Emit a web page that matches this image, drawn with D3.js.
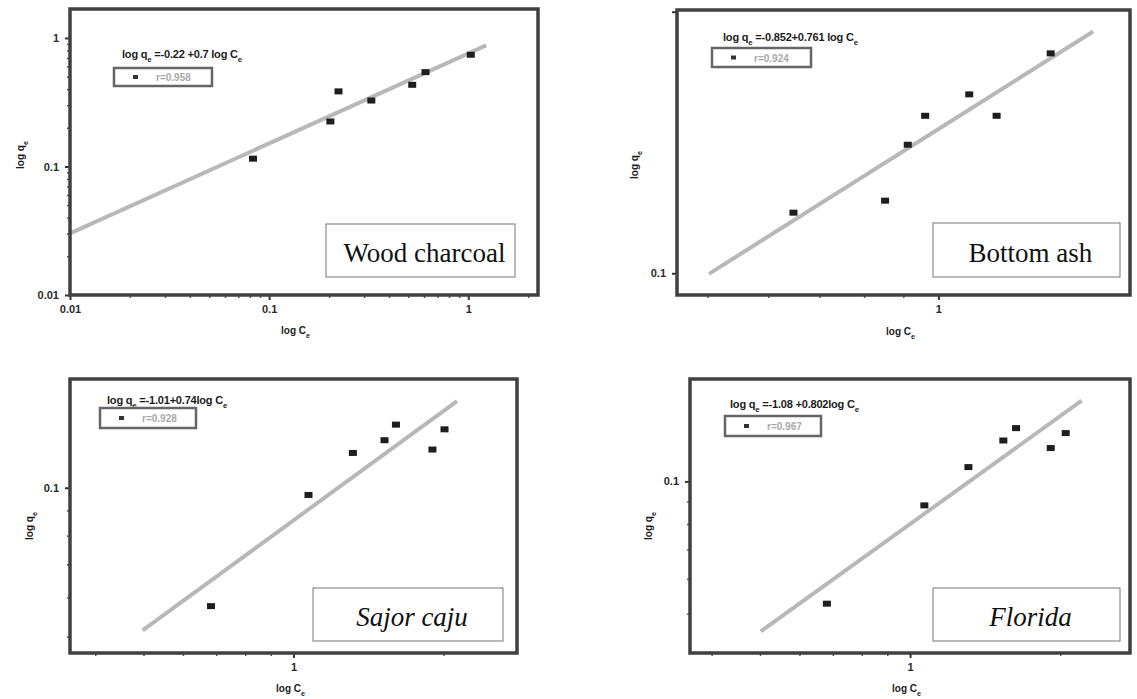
<!DOCTYPE html>
<html>
<head>
<meta charset="utf-8">
<script src="https://cdn.jsdelivr.net/npm/d3@7"></script>
<style>
  body { margin: 0; background: #fff; }
  svg { display: block; }
  .tick text { font-family: "Liberation Sans", Arial, sans-serif; font-weight: bold; font-size: 11px; fill: #2a2a2a; }
</style>
</head>
<body>
<div id="chart"></div>
<script>
// Ce / qe values
const woodCe = [0.083, 0.203, 0.223, 0.326, 0.523, 0.61, 1.03];
const woodQe = [0.115, 0.224, 0.384, 0.326, 0.432, 0.542, 0.74];
const ashCe = [0.647, 0.852, 0.912, 0.961, 1.097, 1.191, 1.401];
const ashQe = [0.1705, 0.1895, 0.31, 0.40, 0.483, 0.40, 0.693];
const sajorCe = [0.683, 1.072, 1.316, 1.523, 1.606, 1.901, 2.01];
const sajorQe = [0.0576, 0.0967, 0.1176, 0.1248, 0.1342, 0.1195, 0.1313];
const floridaCe = [0.681, 1.068, 1.309, 1.538, 1.631, 1.914, 2.051];
const floridaQe = [0.0527, 0.0882, 0.1078, 0.1239, 0.1322, 0.1191, 0.1288];

const panelNames = ['Wood charcoal', 'Bottom ash', 'Sajor caju', 'Florida'];
const italicNames = [false, false, true, true];

// fitted line: log qe = a + b log Ce, drawn from fitFrom to fitTo
const fitIntercept = [-0.121, -0.449, -1.066, -1.097];
const fitSlope = [0.70, 1.848, 0.7355, 0.816];
const fitFrom = [0.01, 0.502, 0.498, 0.502];
const fitTo = [1.23, 1.592, 2.13, 2.208];

const eqConst = [' =-0.22 +0.7 log C', ' =-0.852+0.761 log C', ' =-1.01+0.74log C', ' =-1.08 +0.802log C'];
const rLabels = ['r=0.958', 'r=0.924', 'r=0.928', 'r=0.967'];

// axes
const xDomains = [[0.01, 2.24], [0.456, 1.778], [0.356, 2.81], [0.362, 2.76]];
const yDomains = [[0.01, 1.68], [0.0826, 1.015], [0.0463, 0.166], [0.0407, 0.171]];
const xMajor = [[0.01, 0.1, 1], [1], [1], [1]];
const xMajorLabels = [['0.01', '0.1', '1'], ['1'], ['1'], ['1']];
const xMinor = [
  [0.02, 0.03, 0.04, 0.05, 0.06, 0.07, 0.08, 0.09, 0.2, 0.3, 0.4, 0.5, 0.6, 0.7, 0.8, 0.9, 2],
  [0.5, 0.6, 0.7, 0.8, 0.9],
  [0.4, 0.5, 0.6, 0.7, 0.8, 0.9, 2],
  [0.4, 0.5, 0.6, 0.7, 0.8, 0.9, 2]
];
const yMajor = [[0.01, 0.1, 1], [0.1, 1], [0.1], [0.1]];
const yMajorLabels = [['0.01', '0.1', '1'], ['0.1', ''], ['0.1'], ['0.1']];
const yMinor = [
  [0.02, 0.03, 0.04, 0.05, 0.06, 0.07, 0.08, 0.09, 0.2, 0.3, 0.4, 0.5, 0.6, 0.7, 0.8, 0.9],
  [],
  [0.05, 0.06, 0.07, 0.08, 0.09],
  [0.05, 0.06, 0.07, 0.08, 0.09]
];

const seriesCe = [woodCe, ashCe, sajorCe, floridaCe];
const seriesQe = [woodQe, ashQe, sajorQe, floridaQe];

// layout of each panel in page pixels
const layouts = [
  { x0: 70, x1: 538, y0: 9, y1: 295, eq: [122, 58], legend: [114, 68, 98, 18], nameBox: [326, 224, 189, 53], yLab: [20, 152], xLab: [300, 334] },
  { x0: 677, x1: 1130, y0: 10, y1: 295, eq: [723, 41], legend: [712, 48, 99, 19], nameBox: [933, 223, 187, 54], yLab: [634, 162], xLab: [905, 335] },
  { x0: 70, x1: 517, y0: 379, y1: 653, eq: [107, 404], legend: [100, 408, 96, 20], nameBox: [313, 588, 190, 53], yLab: [29, 523], xLab: [295, 692] },
  { x0: 690, x1: 1130, y0: 379, y1: 653, eq: [730, 408], legend: [725, 416, 96, 20], nameBox: [933, 588, 187, 53], yLab: [648, 523], xLab: [911, 692] }
];

const svg = d3.select('#chart').append('svg')
  .attr('width', 1137)
  .attr('height', 699);

function subLabel(g, x, y, parts, size) {
  // parts: array of [text, isSub]; subscripts shift down, next run shifts back
  const t = g.append('text')
    .attr('x', x).attr('y', y)
    .attr('font-family', '"Liberation Sans", Arial, sans-serif')
    .attr('font-weight', 'bold')
    .attr('font-size', size)
    .attr('fill', '#1c1c1c');
  let shifted = false;
  parts.forEach(([s, sub]) => {
    const dy = sub ? 4 : (shifted ? -4 : 0);
    t.append('tspan')
      .attr('font-size', sub ? size * 0.72 : size)
      .attr('dy', dy)
      .text(s);
    shifted = sub;
  });
  return t;
}

function drawPanel(i) {
  const L = layouts[i];
  const g = svg.append('g');

  const x = d3.scaleLog().domain(xDomains[i]).range([L.x0, L.x1]);
  const y = d3.scaleLog().domain(yDomains[i]).range([L.y1, L.y0]);

  // minor ticks
  g.append('g')
    .attr('transform', `translate(0,${L.y1})`)
    .call(d3.axisBottom(x).tickValues(xMinor[i]).tickSize(3).tickFormat(''))
    .call(a => a.select('.domain').remove())
    .call(a => a.selectAll('line').attr('stroke', '#555').attr('stroke-width', 1.5));
  g.append('g')
    .attr('transform', `translate(${L.x0},0)`)
    .call(d3.axisLeft(y).tickValues(yMinor[i]).tickSize(3).tickFormat(''))
    .call(a => a.select('.domain').remove())
    .call(a => a.selectAll('line').attr('stroke', '#555').attr('stroke-width', 1.5));

  // major ticks with labels
  g.append('g')
    .attr('transform', `translate(0,${L.y1})`)
    .call(d3.axisBottom(x).tickValues(xMajor[i]).tickSize(5).tickPadding(5)
      .tickFormat((d, k) => xMajorLabels[i][k]))
    .call(a => a.select('.domain').remove())
    .call(a => a.selectAll('line').attr('stroke', '#333').attr('stroke-width', 2));
  g.append('g')
    .attr('transform', `translate(${L.x0},0)`)
    .call(d3.axisLeft(y).tickValues(yMajor[i]).tickSize(5).tickPadding(6)
      .tickFormat((d, k) => yMajorLabels[i][k]))
    .call(a => a.select('.domain').remove())
    .call(a => a.selectAll('line').attr('stroke', '#333').attr('stroke-width', 2));

  // fitted line
  const fit = [fitFrom[i], fitTo[i]].map(c => [c, Math.pow(10, fitIntercept[i] + fitSlope[i] * Math.log10(c))]);
  g.append('path')
    .datum(fit)
    .attr('d', d3.line().x(d => x(d[0])).y(d => y(d[1])))
    .attr('stroke', '#b8b8b8')
    .attr('stroke-width', 4)
    .attr('fill', 'none');

  // data points
  g.selectAll('rect.pt')
    .data(seriesCe[i].map((c, k) => [c, seriesQe[i][k]]))
    .join('rect')
    .attr('class', 'pt')
    .attr('x', d => x(d[0]) - 4)
    .attr('y', d => y(d[1]) - 3)
    .attr('width', 8)
    .attr('height', 6)
    .attr('fill', '#1e1e1e');

  // frame
  g.append('rect')
    .attr('x', L.x0).attr('y', L.y0)
    .attr('width', L.x1 - L.x0).attr('height', L.y1 - L.y0)
    .attr('fill', 'none')
    .attr('stroke', '#404040')
    .attr('stroke-width', 3.5);

  // equation
  subLabel(g, L.eq[0], L.eq[1], [['log q', false], ['e', true], [eqConst[i], false], ['e', true]], 11)
    .attr('letter-spacing', -0.2);

  // legend box
  const [lx, ly, lw, lh] = L.legend;
  g.append('rect')
    .attr('x', lx).attr('y', ly).attr('width', lw).attr('height', lh)
    .attr('fill', '#fff').attr('stroke', '#666').attr('stroke-width', 2.5);
  g.append('rect')
    .attr('x', lx + 19).attr('y', ly + lh / 2 - 2).attr('width', 5).attr('height', 4)
    .attr('fill', '#333');
  g.append('text')
    .attr('x', lx + 42).attr('y', ly + lh / 2 + 4)
    .attr('font-family', '"Liberation Sans", Arial, sans-serif')
    .attr('font-size', 10)
    .attr('font-weight', 'bold')
    .attr('fill', '#aaa')
    .text(rLabels[i]);

  // name box
  const [nx, ny, nw, nh] = L.nameBox;
  g.append('rect')
    .attr('x', nx).attr('y', ny).attr('width', nw).attr('height', nh)
    .attr('fill', '#fff').attr('stroke', '#777').attr('stroke-width', 1);
  g.append('text')
    .attr('x', nx + nw / 2 + 4).attr('y', ny + nh - 15)
    .attr('text-anchor', 'middle')
    .attr('font-family', '"Liberation Serif", "Times New Roman", serif')
    .attr('font-size', 27)
    .attr('font-style', italicNames[i] ? 'italic' : 'normal')
    .attr('fill', '#111')
    .text(panelNames[i]);

  // axis titles
  subLabel(g, L.xLab[0] - 19, L.xLab[1], [['log C', false], ['e', true]], 10);
  subLabel(g, 0, 0, [['log q', false], ['e', true]], 10)
    .attr('transform', `translate(${L.yLab[0] + 4},${L.yLab[1] + 17}) rotate(-90)`);
}

for (let i = 0; i < 4; i++) drawPanel(i);
</script>
</body>
</html>
